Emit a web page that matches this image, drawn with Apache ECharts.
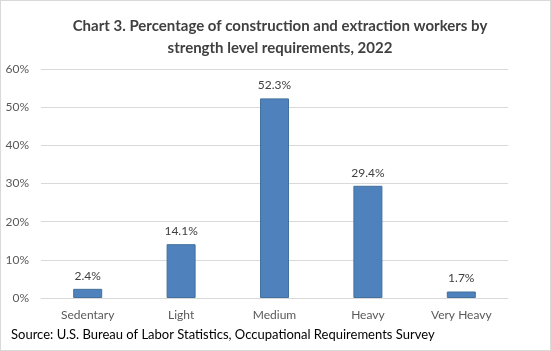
<!DOCTYPE html>
<html>
<head>
<meta charset="utf-8">
<script src="https://cdn.jsdelivr.net/npm/echarts@6/dist/echarts.min.js"></script>
<style>
  html, body { margin: 0; padding: 0; background: #fff; }
  #chart { width: 549px; height: 349px; border: 1px solid #d9d9d9; }
</style>
</head>
<body>
<div id="chart"></div>
<script>
// strength level categories
const categories = ["Sedentary", "Light", "Medium", "Heavy", "Very Heavy"];
// percent of workers
const values = [2.4, 14.1, 52.3, 29.4, 1.7];
const titleText = "Chart 3. Percentage of construction and extraction workers by\nstrength level requirements, 2022";
const sourceText = "Source: U.S. Bureau of Labor Statistics, Occupational Requirements Survey";

const chart = echarts.init(document.getElementById("chart"));
const fontFam = "Lato, 'Open Sans', sans-serif";

chart.setOption({
  animation: false,
  textStyle: { fontFamily: fontFam },
  title: [
    {
      text: titleText,
      left: 274,
      top: 9,
      textAlign: "center",
      textStyle: {
        fontFamily: fontFam,
        fontSize: 15,
        fontWeight: "bold",
        color: "#404040",
        lineHeight: 22
      }
    },
    {
      text: sourceText,
      left: 5,
      top: 322,
      textStyle: {
        fontFamily: fontFam,
        fontSize: 13,
        fontWeight: "normal",
        color: "#000"
      }
    }
  ],
  grid: {
    left: 40,
    right: 42,
    top: 68,
    bottom: 52
  },
  xAxis: {
    type: "category",
    data: categories,
    axisLine: { show: true, lineStyle: { color: "#d9d9d9" } },
    axisTick: { show: false },
    axisLabel: { color: "#595959", fontSize: 12, margin: 11 }
  },
  yAxis: {
    type: "value",
    min: 0,
    max: 60,
    interval: 10,
    axisLine: { show: false },
    axisTick: { show: false },
    axisLabel: { color: "#595959", fontSize: 12, margin: 12, formatter: "{value}%" },
    splitLine: { lineStyle: { color: "#d9d9d9" } }
  },
  series: [
    {
      type: "bar",
      data: values,
      barWidth: 29,
      itemStyle: { color: "#4f81bd", borderColor: "#41719c", borderWidth: 1 },
      label: {
        show: true,
        position: "top",
        distance: 7,
        color: "#404040",
        fontSize: 12,
        formatter: p => p.value.toFixed(1) + "%"
      }
    }
  ]
});
</script>
</body>
</html>
